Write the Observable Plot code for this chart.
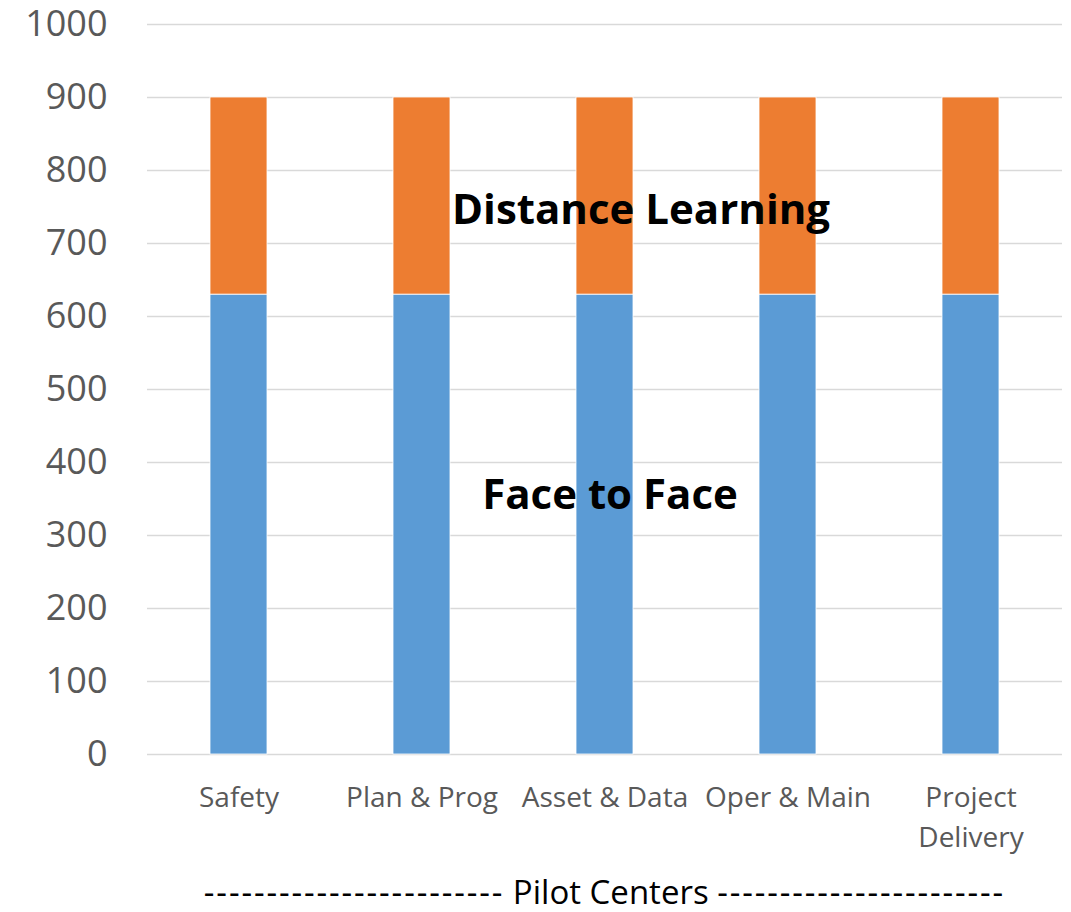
<!DOCTYPE html>
<html>
<head>
<meta charset="utf-8">
<script src="https://cdn.jsdelivr.net/npm/d3@7"></script>
<script src="https://cdn.jsdelivr.net/npm/@observablehq/plot@0.6"></script>
<style>
  html, body { margin: 0; padding: 0; background: #fff; }
  #wrap { width: 1071px; height: 912px; position: relative; font-family: "Open Sans", sans-serif; }
  #chart svg { overflow: visible; }
  #title { position: absolute; left: 147px; width: 915px; top: 874px; text-align: center; font-size: 33px; color: #000; white-space: nowrap; line-height: 36px; }
  .dash { letter-spacing: 1.9px; }
</style>
</head>
<body>
<div id="wrap">
  <div id="chart"></div>
  <div id="title"><span class="dash">------------------------</span> Pilot Centers <span class="dash">-----------------------</span></div>
</div>
<script>
const categories = ["Safety", "Plan & Prog", "Asset & Data", "Oper & Main", "Project Delivery"];
const seriesNames = ["Face to Face", "Distance Learning"];
const faceToFace = [630, 630, 630, 630, 630];
const distanceLearning = [270, 270, 270, 270, 270];
const yTicks = [0, 100, 200, 300, 400, 500, 600, 700, 800, 900, 1000];
const seriesColors = ["#5B9BD5", "#ED7D31"];
const distanceLabel = [{category: "Asset & Data", value: 745, text: "Distance Learning"}];
const faceLabel = [{category: "Asset & Data", value: 355, text: "Face to Face"}];

const rows = [];
categories.forEach((c, i) => {
  rows.push({category: c, series: seriesNames[0], value: faceToFace[i]});
  rows.push({category: c, series: seriesNames[1], value: distanceLearning[i]});
});

const labelStyle = {x: "category", y: "value", text: "text", fontSize: 42, fontWeight: "bold", fill: "#000"};

const chart = Plot.plot({
  width: 1071,
  height: 860,
  marginLeft: 147,
  marginRight: 9,
  marginTop: 24,
  marginBottom: 106,
  style: {fontFamily: "Open Sans, sans-serif", color: "#595959", background: "#fff"},
  x: {domain: categories, paddingInner: 0.69, paddingOuter: 0.345, label: null},
  y: {domain: [0, 1000], label: null},
  color: {domain: seriesNames, range: seriesColors},
  marks: [
    Plot.gridY(yTicks, {stroke: "#D9D9D9", strokeOpacity: 1, strokeWidth: 1.6}),
    Plot.barY(rows, Plot.stackY({x: "category", y: "value", fill: "series", order: seriesNames, stroke: "#fff", strokeWidth: 0.8})),
    Plot.axisY({ticks: yTicks, tickSize: 0, tickPadding: 40, fontSize: 36, label: null, tickFormat: d => String(d)}),
    Plot.axisX({tickSize: 0, tickPadding: 25, fontSize: 28, lineHeight: 1.4, label: null,
      tickFormat: d => d === "Project Delivery" ? "Project\nDelivery" : d}),
    Plot.text(distanceLabel, {...labelStyle, dx: 36}),
    Plot.text(faceLabel, {...labelStyle, dx: 5})
  ]
});
document.getElementById("chart").appendChild(chart);
</script>
</body>
</html>
